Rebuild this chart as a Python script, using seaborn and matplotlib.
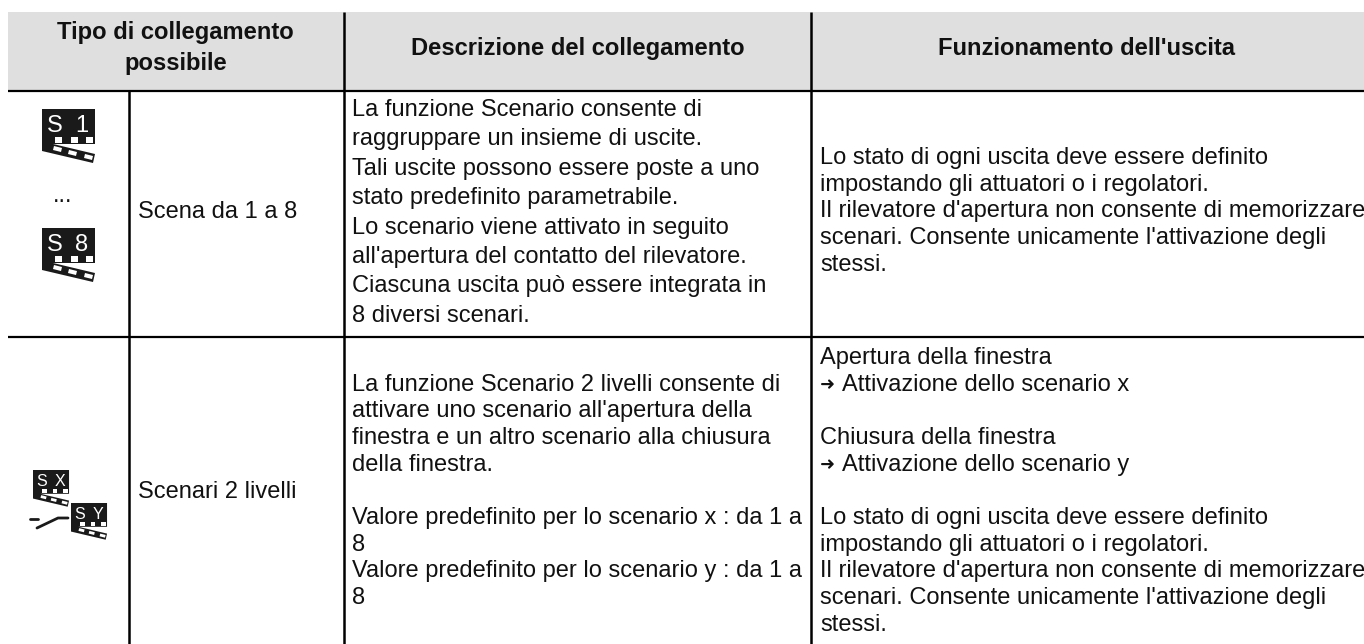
import matplotlib
matplotlib.use("Agg")
import matplotlib.pyplot as plt
from matplotlib.patches import Polygon, Rectangle
import seaborn as sns

sns.set_style("white")
plt.rcParams["font.family"] = ["Liberation Sans", "DejaVu Sans"]

HEADERS = ["Tipo di collegamento\npossibile",
           "Descrizione del collegamento",
           "Funzionamento dell'uscita"]

TYPE_LABELS = ["Scena da 1 a 8", "Scenari 2 livelli"]

DESC_1 = ["La funzione Scenario consente di",
          "raggruppare un insieme di uscite.",
          "Tali uscite possono essere poste a uno",
          "stato predefinito parametrabile.",
          "Lo scenario viene attivato in seguito",
          "all'apertura del contatto del rilevatore.",
          "Ciascuna uscita può essere integrata in",
          "8 diversi scenari."]

DESC_2 = ["La funzione Scenario 2 livelli consente di",
          "attivare uno scenario all'apertura della",
          "finestra e un altro scenario alla chiusura",
          "della finestra.",
          "",
          "Valore predefinito per lo scenario x : da 1 a",
          "8",
          "Valore predefinito per lo scenario y : da 1 a",
          "8"]

OUT_1 = ["Lo stato di ogni uscita deve essere definito",
         "impostando gli attuatori o i regolatori.",
         "Il rilevatore d'apertura non consente di memorizzare",
         "scenari. Consente unicamente l'attivazione degli",
         "stessi."]

OUT_2 = ["Apertura della finestra",
         "➜ Attivazione dello scenario x",
         "",
         "Chiusura della finestra",
         "➜ Attivazione dello scenario y",
         "",
         "Lo stato di ogni uscita deve essere definito",
         "impostando gli attuatori o i regolatori.",
         "Il rilevatore d'apertura non consente di memorizzare",
         "scenari. Consente unicamente l'attivazione degli",
         "stessi."]

W, H = 1364, 644
FS = 17
PITCH = 26.67
INK = "#111111"

fig = plt.figure(figsize=(W / 100, H / 100), dpi=100)
ax = fig.add_axes([0, 0, 1, 1])
ax.set_xlim(0, W)
ax.set_ylim(H, 0)
ax.axis("off")


def block(x, y, lines, pitch=PITCH):
    for i, line in enumerate(lines):
        yy = y + i * pitch
        if line.startswith("➜"):
            # the arrow is a smaller glyph than the text next to it
            ax.text(x, yy, "➜", fontsize=13, color=INK, va="baseline")
            ax.text(x + 22, yy, line[2:], fontsize=FS, color=INK, va="baseline")
        else:
            ax.text(x, yy, line, fontsize=FS, color=INK, va="baseline")


def icon(x, y, labels, k=1.0):
    # clapperboard pictogram, x/y = top left corner of the black board
    def pts(p):
        return [(x + a * k, y + b * k) for a, b in p]

    ax.add_patch(Polygon(pts([(0, 0), (53, 0), (53, 35), (11, 35), (53, 45), (51, 54), (0, 42)]),
                         fc="#1a1a1a", ec="none"))
    for a in (13, 29, 44):
        ax.add_patch(Rectangle((x + a * k, y + 28 * k), 7 * k, 6 * k, fc="white", ec="none"))
    for a, b in ((12, 37), (27, 41), (43, 45)):
        ax.add_patch(Polygon(pts([(a, b), (a + 8, b + 2), (a + 7, b + 6), (a - 1, b + 4)]),
                             fc="white", ec="none"))
    for off, label in zip((13, 40), labels):
        ax.text(x + off * k, y + 23 * k, label, fontsize=17 * k, color="white",
                ha="center", va="baseline")


# header band and rules
ax.add_patch(Rectangle((8, 12), W - 8, 79, fc="#dfdfdf", ec="none"))
for y in (90.7, 336.7):
    ax.plot([8, W], [y, y], color="black", lw=1.6, solid_capstyle="butt")
ax.plot([129, 129], [91, H], color="black", lw=1.8, solid_capstyle="butt")
ax.plot([343.5, 343.5], [12, H], color="black", lw=1.8, solid_capstyle="butt")
ax.plot([811, 811], [12, H], color="black", lw=1.8, solid_capstyle="butt")

for cx, head, by in zip((175.5, 578, 1087), HEADERS, (70, 55, 55)):
    ax.text(cx, by, head, fontsize=17.1, fontweight="bold", color=INK, ha="center", va="baseline",
            linespacing=1.45, multialignment="center")

# first column
ax.text(138, 217.5, TYPE_LABELS[0], fontsize=FS, color=INK, va="baseline")
ax.text(138, 498, TYPE_LABELS[1], fontsize=FS, color=INK, va="baseline")
ax.text(63, 202, "...", fontsize=FS, color=INK, ha="center", va="baseline")
icon(42, 109, ("S", "1"))
icon(42, 228, ("S", "8"))
icon(33, 470, ("S", "X"), 0.68)
icon(71, 503, ("S", "Y"), 0.68)
ax.plot([30, 38], [519, 519], color="#1a1a1a", lw=2)
ax.plot([37, 58, 68], [528, 518, 518], color="#1a1a1a", lw=2)

# body text
block(352, 116, DESC_1, pitch=29.4)
block(352, 390.7, DESC_2)
block(820, 164, OUT_1)
block(820, 364, OUT_2)

fig.savefig("out.png", dpi=100)
